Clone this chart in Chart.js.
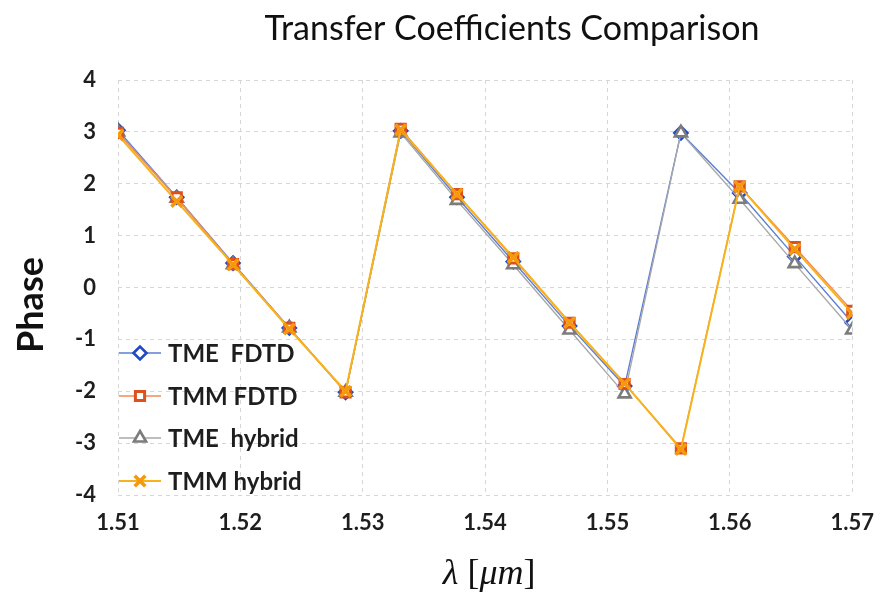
<!DOCTYPE html>
<html>
<head>
<meta charset="utf-8">
<script src="https://cdn.jsdelivr.net/npm/chart.js@4.4.1/dist/chart.umd.min.js"></script>
<style>
  html, body { margin: 0; padding: 0; background: #ffffff; }
  #wrap { width: 889px; height: 599px; position: relative; }
</style>
</head>
<body>
<div id="wrap"><canvas id="c" width="889" height="599"></canvas></div>
<script>
// Wavelength samples (µm)
const lambda = [1.51, 1.5148, 1.5194, 1.524, 1.5286, 1.5331, 1.5377, 1.5423, 1.5469, 1.5514, 1.556, 1.5608, 1.5653, 1.57];

// Phase values per method
const tmeFdtd    = [3.03, 1.74, 0.47, -0.78, -2.02, 3.02, 1.74, 0.50, -0.74, -1.90,  2.98, 1.82, 0.60, -0.68];
const tmmFdtd    = [2.98, 1.74, 0.45, -0.78, -2.02, 3.06, 1.80, 0.56, -0.68, -1.86, -3.10, 1.95, 0.78, -0.45];
const tmeHybrid  = [3.00, 1.72, 0.44, -0.78, -2.02, 2.98, 1.68, 0.44, -0.82, -2.05,  2.98, 1.70, 0.46, -0.82];
const tmmHybrid  = [2.94, 1.66, 0.44, -0.80, -2.00, 3.04, 1.80, 0.58, -0.68, -1.85, -3.12, 1.95, 0.74, -0.50];

const seriesNames = ['TME  FDTD', 'TMM FDTD', 'TME  hybrid', 'TMM hybrid'];
const xTicks = [1.51, 1.52, 1.53, 1.54, 1.55, 1.56, 1.57];
const chartTitle = 'Transfer Coefficients Comparison';
// x-axis title pieces: [text, italic?]
const xTitleParts = [['λ', true], [' [', false], ['μm', true], [']', false]];

const pts = (ys) => ys.map((y, i) => ({ x: lambda[i], y }));

const datasets = [
  { label: seriesNames[0], data: pts(tmeFdtd), borderColor: '#5b7fd6', borderWidth: 1.4,
    pointStyle: 'rectRot', pointRadius: 6.5, pointBorderColor: '#1f49c8', pointBackgroundColor: '#ffffff', pointBorderWidth: 2.6, order: 3 },
  { label: seriesNames[1], data: pts(tmmFdtd), borderColor: '#ef8a5a', borderWidth: 1.4,
    pointStyle: 'rect', pointRadius: 6.5, pointBorderColor: '#e0501c', pointBackgroundColor: '#ffffff', pointBorderWidth: 3, order: 1 },
  { label: seriesNames[2], data: pts(tmeHybrid), borderColor: '#a8a8a8', borderWidth: 1.4,
    pointStyle: 'triangle', pointRadius: 7, pointBorderColor: '#7c7c7c', pointBackgroundColor: '#ffffff', pointBorderWidth: 2.6, order: 2 },
  { label: seriesNames[3], data: pts(tmmHybrid), borderColor: '#f7b21c', borderWidth: 2,
    pointStyle: 'crossRot', pointRadius: 7.5, pointBorderColor: '#f59a0c', pointBackgroundColor: '#f59a0c', pointBorderWidth: 3.6, order: 0 }
];

// Chart title and the mixed-style x-axis title
const captions = {
  id: 'captions',
  afterDraw(chart) {
    const ctx = chart.ctx;
    const area = chart.chartArea;
    ctx.save();
    ctx.font = '34px Lato';
    ctx.fillStyle = '#101010';
    ctx.textAlign = 'center';
    ctx.textBaseline = 'middle';
    ctx.fillText(chartTitle, 512, 29);

    // x-axis title, centred under the plot
    const fontFor = (it) => (it ? 'italic ' : '') + '36px "Liberation Serif"';
    let total = 0;
    xTitleParts.forEach(([t, it]) => { ctx.font = fontFor(it); total += ctx.measureText(t).width; });
    let x = (area.left + area.right) / 2 + 4 - total / 2;
    ctx.textAlign = 'left';
    ctx.fillStyle = '#111111';
    xTitleParts.forEach(([t, it]) => {
      ctx.font = fontFor(it);
      ctx.fillText(t, x, 575);
      x += ctx.measureText(t).width;
    });
    ctx.restore();
  }
};

// Legend drawn inside the lower-left corner of the plot area
const innerLegend = {
  id: 'innerLegend',
  afterDatasetsDraw(chart) {
    const ctx = chart.ctx;
    const rows = [353, 396, 438, 481];
    chart.data.datasets.forEach((ds, i) => {
      const y = rows[i];
      ctx.save();
      ctx.strokeStyle = ds.borderColor;
      ctx.lineWidth = ds.borderWidth;
      ctx.beginPath();
      ctx.moveTo(119, y);
      ctx.lineTo(161, y);
      ctx.stroke();
      ctx.strokeStyle = ds.pointBorderColor;
      ctx.fillStyle = ds.pointBackgroundColor;
      ctx.lineWidth = ds.pointBorderWidth;
      Chart.helpers.drawPoint(ctx, { pointStyle: ds.pointStyle, radius: ds.pointRadius, borderWidth: ds.pointBorderWidth, rotation: 0 }, 140, y);
      ctx.font = 'bold 24px Lato';
      ctx.fillStyle = '#1e1e1e';
      ctx.textAlign = 'left';
      ctx.textBaseline = 'middle';
      ctx.fillText(ds.label, 168, y + 1);
      ctx.restore();
    });
  }
};

new Chart(document.getElementById('c'), {
  type: 'line',
  data: { datasets },
  plugins: [captions, innerLegend],
  options: {
    responsive: false,
    animation: false,
    layout: { padding: { top: 80, right: 29, bottom: 0, left: 0 } },
    plugins: { legend: { display: false }, title: { display: false }, tooltip: { enabled: false } },
    scales: {
      x: {
        type: 'linear',
        min: 1.51, max: 1.57,
        afterBuildTicks(scale) { scale.ticks = xTicks.map(v => ({ value: v })); },
        afterFit(scale) { scale.height = 104; },
        grid: { color: '#d6d6d6', drawTicks: false },
        border: { display: false, dash: [4, 4] },
        ticks: {
          padding: 15,
          color: '#1e1e1e',
          font: { family: 'Lato', weight: 'bold', size: 22 },
          callback: (v) => v.toFixed(2)
        }
      },
      y: {
        min: -4, max: 4,
        afterFit(scale) { scale.width = 118; },
        grid: { color: '#d6d6d6', drawTicks: false },
        border: { display: false, dash: [4, 4] },
        ticks: {
          stepSize: 1,
          padding: 22,
          color: '#1e1e1e',
          font: { family: 'Lato', weight: 'bold', size: 22 }
        },
        title: {
          display: true,
          text: 'Phase    ',
          color: '#111111',
          font: { family: 'Lato', weight: 'bold', size: 36 },
          padding: { top: 10, bottom: 0 }
        }
      }
    }
  }
});
</script>
</body>
</html>
